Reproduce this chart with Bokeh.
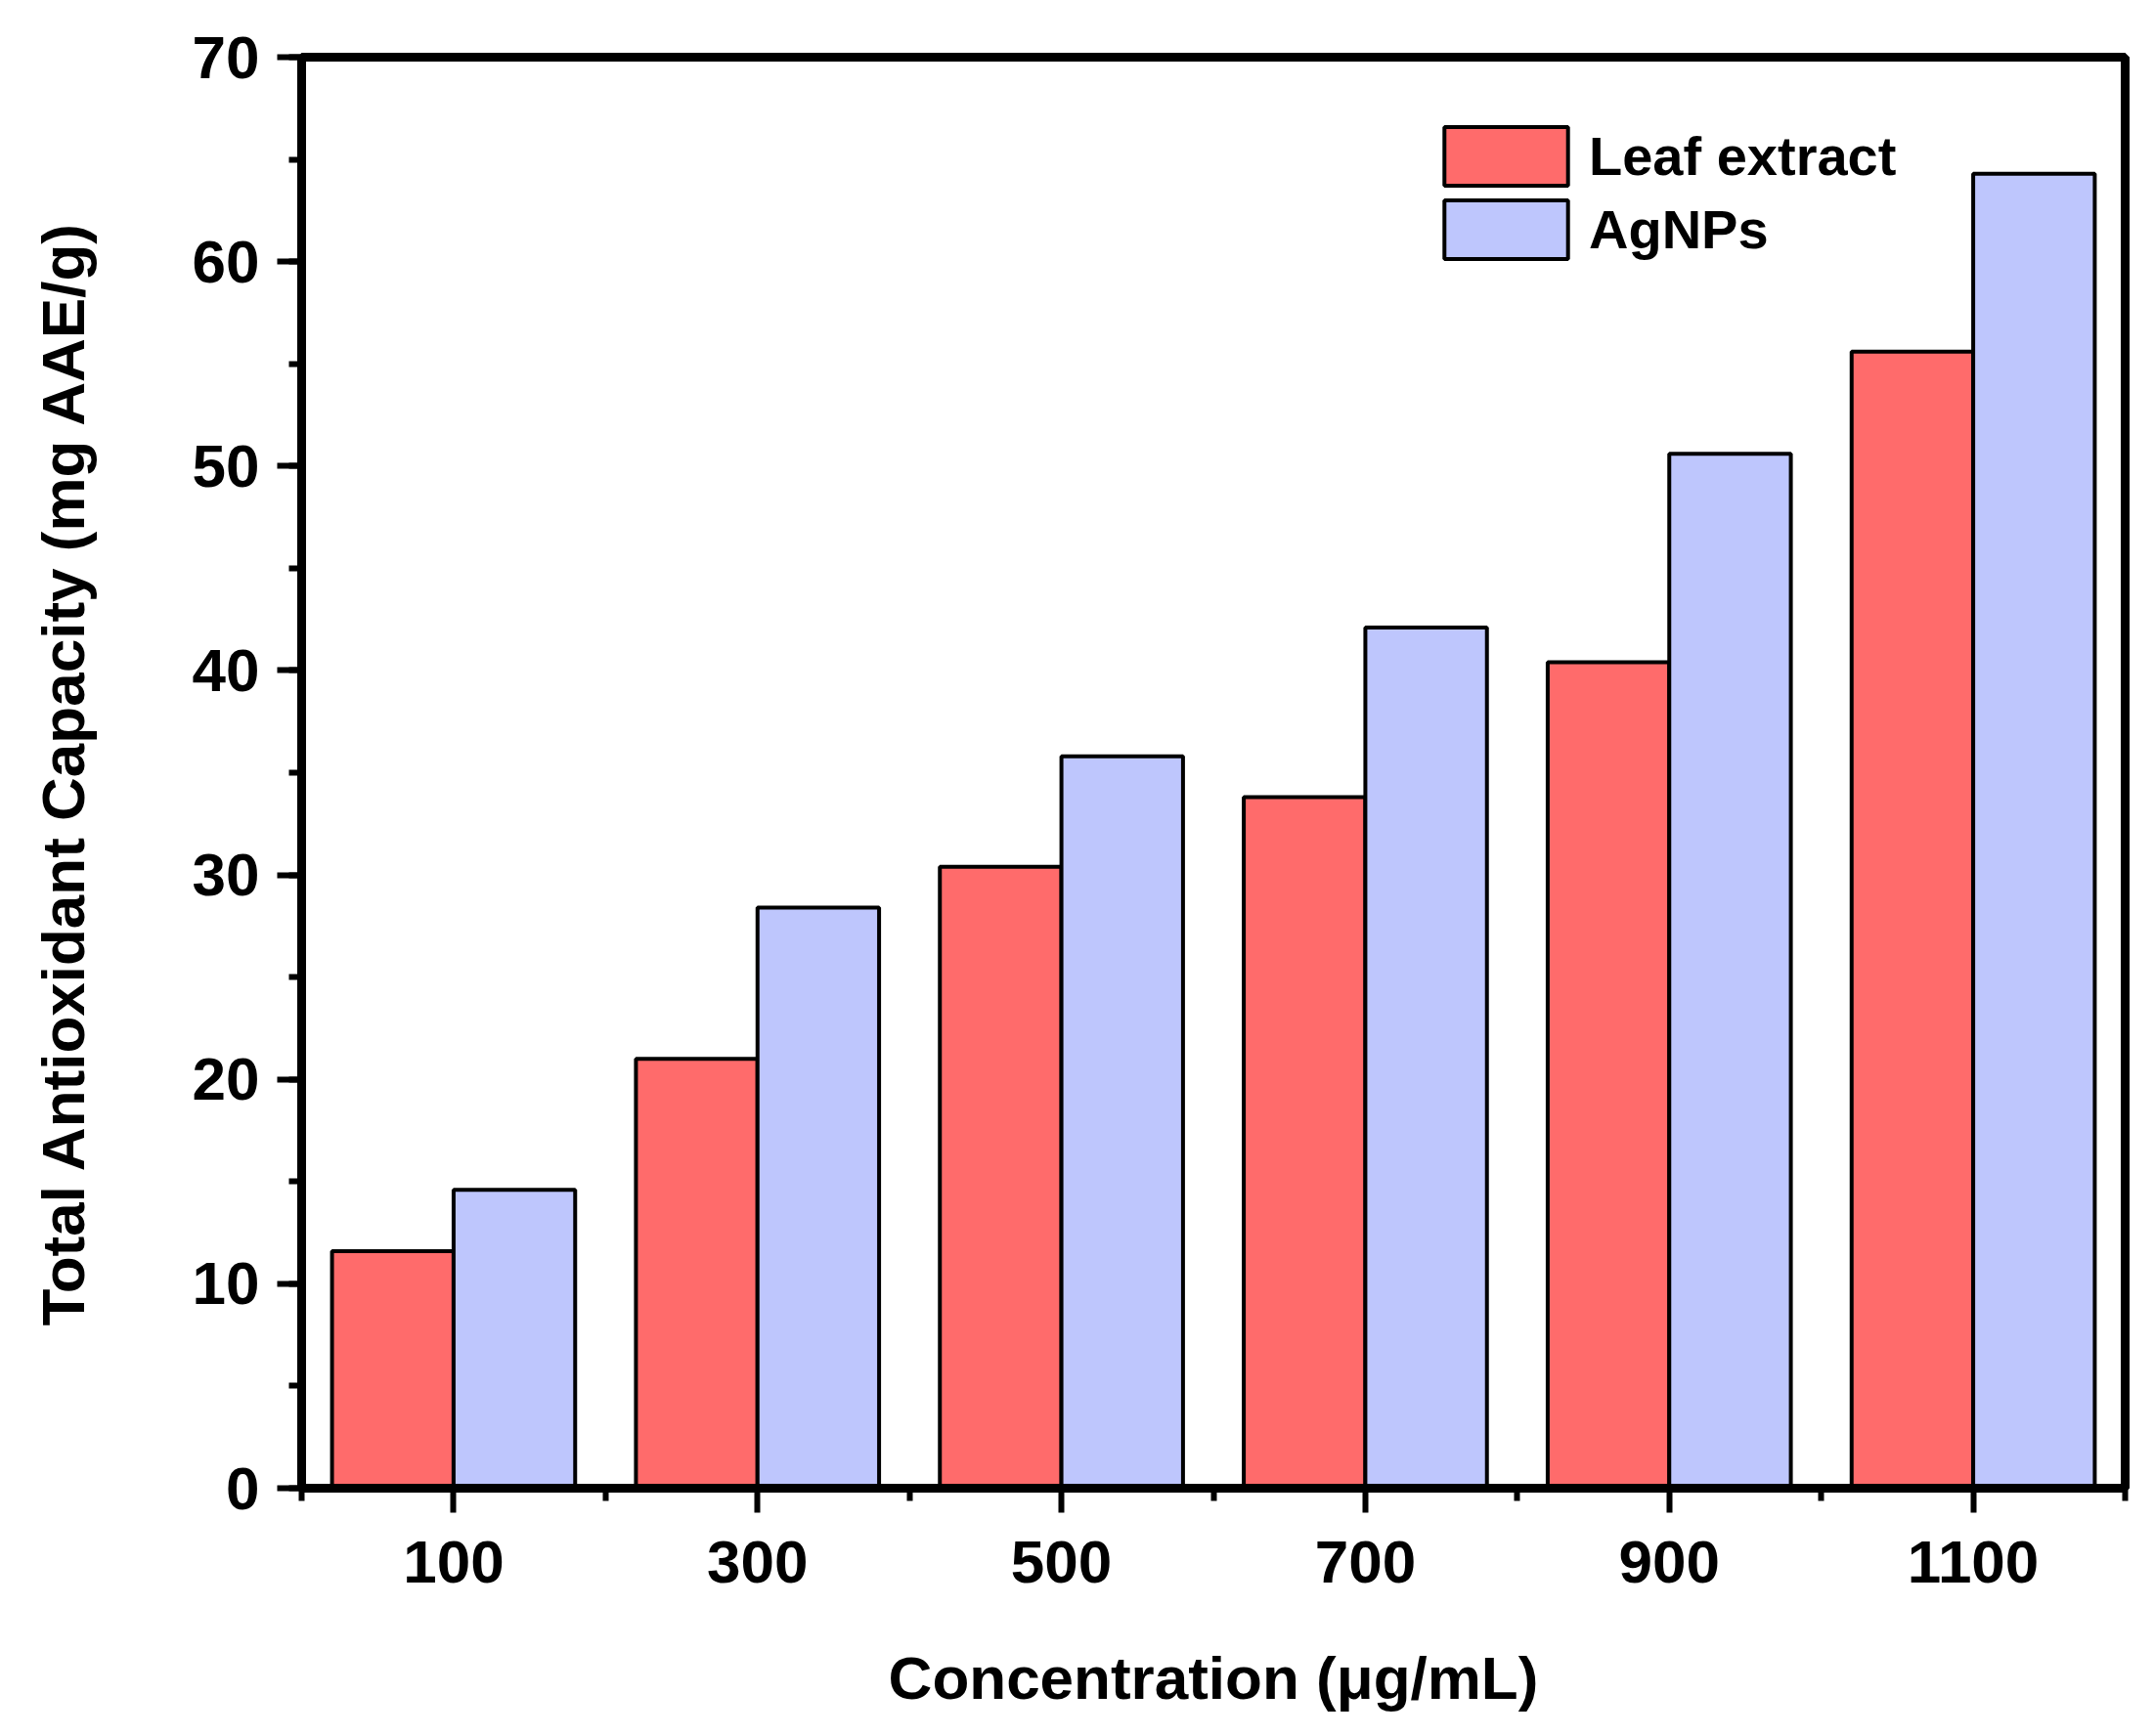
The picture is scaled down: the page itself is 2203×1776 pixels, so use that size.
from bokeh.plotting import figure
from bokeh.models import ColumnDataSource, FixedTicker, SingleIntervalTicker, Legend, LegendItem, Range1d
from bokeh.transform import dodge
from bokeh.embed import file_html
from bokeh.resources import INLINE

concentration = [100, 300, 500, 700, 900, 1100]
leaf_extract = [11.6, 21.0, 30.4, 33.8, 40.4, 55.6]
agnps = [14.6, 28.4, 35.8, 42.1, 50.6, 64.3]
x_ticks = [100, 300, 500, 700, 900, 1100]
x_minor = [0, 200, 400, 600, 800, 1000, 1200]

src = ColumnDataSource(dict(conc=concentration, leaf=leaf_extract, ag=agnps))

FONT = "Liberation Sans"

p = figure(width=2187, height=1760, output_backend="svg", toolbar_location=None,
           x_range=Range1d(0, 1200), y_range=Range1d(0, 70))
p.min_border_left = 308
p.min_border_right = 14
p.min_border_top = 58
p.min_border_bottom = 238
p.background_fill_color = "white"
p.border_fill_color = "white"
p.outline_line_color = "black"
p.outline_line_width = 9
p.xgrid.visible = False
p.ygrid.visible = False

r1 = p.vbar(x=dodge("conc", -40, range=p.x_range), top="leaf", width=80, source=src,
            fill_color="#FF6B6B", line_color="black", line_width=4)
r2 = p.vbar(x=dodge("conc", 40, range=p.x_range), top="ag", width=80, source=src,
            fill_color="#BEC6FD", line_color="black", line_width=4)

p.xaxis.ticker = FixedTicker(ticks=x_ticks, minor_ticks=x_minor)
p.yaxis.ticker = SingleIntervalTicker(interval=10, num_minor_ticks=2)

for ax in (p.xaxis[0], p.yaxis[0]):
    ax.axis_line_width = 9
    ax.axis_line_color = "black"
    ax.major_tick_line_width = 6
    ax.minor_tick_line_width = 6
    ax.major_tick_in = 0
    ax.major_tick_out = 25
    ax.minor_tick_in = 0
    ax.minor_tick_out = 13
    ax.major_label_text_font = FONT
    ax.major_label_text_font_style = "bold"
    ax.major_label_text_font_size = "62px"
    ax.major_label_text_color = "black"
    ax.axis_label_text_font = FONT
    ax.axis_label_text_font_style = "bold"
    ax.axis_label_text_font_size = "62px"
    ax.axis_label_text_color = "black"

p.xaxis.axis_label = "Concentration (μg/mL)"
p.yaxis.axis_label = "Total Antioxidant Capacity (mg AAE/g)"
p.xaxis.major_label_standoff = 29
p.yaxis.major_label_standoff = 18
p.xaxis.axis_label_standoff = 60
p.yaxis.axis_label_standoff = 95

legend = Legend(items=[LegendItem(label="Leaf extract", renderers=[r1]),
                       LegendItem(label="AgNPs", renderers=[r2])],
                location=(1153, 1250))
legend.glyph_width = 158
legend.glyph_height = 75
legend.spacing = -10
legend.padding = 0
legend.margin = 0
legend.label_standoff = 6
legend.label_text_font = FONT
legend.label_text_font_style = "bold"
legend.label_text_font_size = "56px"
legend.label_text_color = "black"
legend.border_line_alpha = 0
legend.background_fill_alpha = 0
p.add_layout(legend)

open("out.html", "w").write(file_html(p, INLINE))
